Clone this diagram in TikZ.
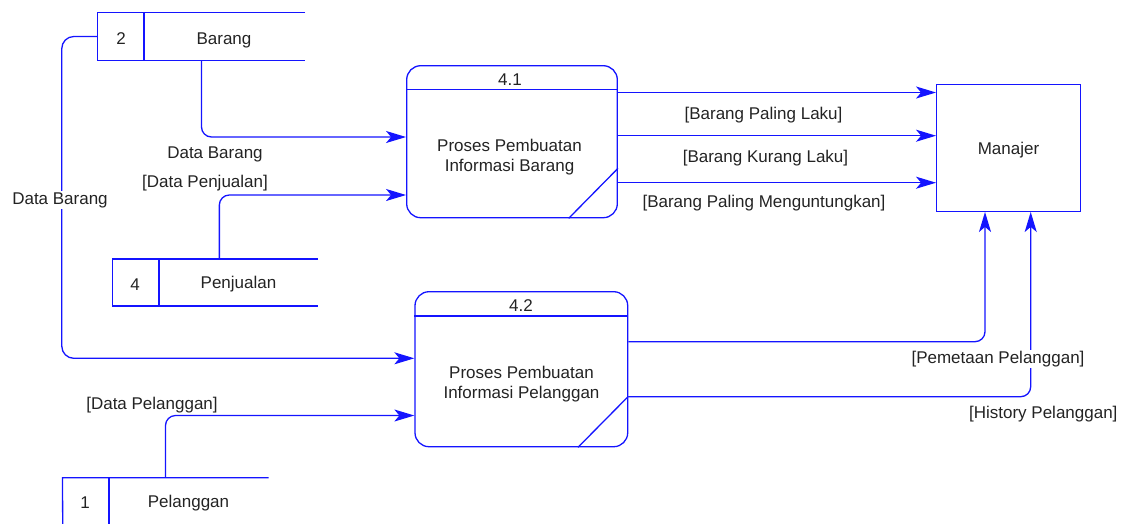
\documentclass[tikz,border=0pt]{standalone}
\usepackage{fontspec}
\setmainfont{Liberation Sans}
\usetikzlibrary{arrows.meta}
\definecolor{dfdline}{RGB}{20,20,255}
\definecolor{ink}{RGB}{35,35,35}
\begin{document}
\begin{tikzpicture}[x=1pt,y=-1pt,
  lbl/.style={font=\fontsize{17}{20}\selectfont, text=ink, inner sep=1pt, yshift=-2pt},
  proc/.style={draw=dfdline, line width=1.3pt, rounded corners=14pt, inner sep=0pt},
  store/.style={inner sep=0pt},
  entity/.style={draw=dfdline, line width=1.3pt, inner sep=0pt},
  edge/.style={dfdline, line width=1.3pt},
  flow/.style={dfdline, line width=1.3pt, rounded corners=10pt,
    -{Stealth[length=20pt,width=12pt,inset=5pt]}},
  gap/.style={lbl, fill=white}]
\useasboundingbox (0,0) rectangle (1129,523);

% processes
\node[proc, minimum width=210.6pt, minimum height=152pt] (p1) at (512,141.7) {};
\node[proc, minimum width=212.7pt, minimum height=155pt] (p2) at (521.35,369.2) {};
\draw[edge] (p1.west |- 0,89.7) -- (p1.east |- 0,89.7);
\draw[edge] ([xshift=-49.3pt]p1.south east) -- ([yshift=50pt]p1.south east);
\draw[edge] (p2.west |- 0,316) -- (p2.east |- 0,316);
\draw[edge] ([xshift=-50.4pt]p2.south east) -- ([yshift=51pt]p2.south east);
\node[lbl] (p1id) at (510,78) {4.1};
\node[lbl, align=center] (p1txt) at (509.5,155) {Proses Pembuatan\\Informasi Barang};
\node[lbl] (p2id) at (521,304) {4.2};
\node[lbl, align=center] (p2txt) at (521.5,382) {Proses Pembuatan\\Informasi Pelanggan};

% external entity
\node[entity, minimum width=143.6pt, minimum height=126.6pt] (m) at (1008.5,148) {};
\node[lbl] (mtxt) at (m.center) {Manajer};

% data stores
\node[store, minimum width=207pt, minimum height=47pt] (s2) at (201.5,36.5) {};
\draw[edge] (s2.north east) -- (s2.north west) -- (s2.south west) -- (s2.south east);
\draw[edge] (144,13) -- (144,60);
\node[lbl] (s2n) at (121,37) {2};
\node[lbl] (s2t) at (224,38) {Barang};

\node[store, minimum width=205.3pt, minimum height=46.4pt] (s4) at (215.35,282.5) {};
\draw[edge] (s4.north east) -- (s4.north west) -- (s4.south west) -- (s4.south east);
\draw[edge] (159,259.3) -- (159,305.7);
\node[lbl] (s4n) at (135,282.5) {4};
\node[lbl] (s4t) at (238.5,282.5) {Penjualan};

\node[store, minimum width=205.6pt, minimum height=46pt] (s1) at (165.5,501) {};
\draw[edge] (s1.north east) -- (s1.north west) -- (62.7,524);
\draw[edge] (109,478) -- (109,524);
\node[lbl] (s1n) at (85,501) {1};
\node[lbl] (s1t) at (188.5,501) {Pelanggan};

% flows into 4.1
\draw[flow] (s2.south) |- (p1.west |- 0,137);
\draw[flow] ([xshift=4pt]s4.north) |- (p1.west |- 0,195);
\node[lbl] (f1) at (215,152) {Data Barang};
\node[lbl] (f2) at (205,181) {[Data Penjualan]};

% flows into 4.2
\draw[flow, rounded corners=12pt] (s2.west) -- ++(-36,0) |- (p2.west |- 0,358.3);
\node[gap] (f3) at (60,198) {Data Barang};
\draw[flow] (s1.north) |- (p2.west |- 0,415.5);
\node[lbl] (f4) at (152,403.5) {[Data Pelanggan]};

% flows from 4.1 to Manajer
\draw[flow] (p1.east |- 0,92.5) -- (m.west |- 0,92.5);
\draw[flow] (p1.east |- 0,135.7) -- (m.west |- 0,135.7);
\draw[flow] (p1.east |- 0,182.7) -- (m.west |- 0,182.7);
\node[lbl] (f5) at (763.5,112.7) {[Barang Paling Laku]};
\node[lbl] (f6) at (765.5,155.7) {[Barang Kurang Laku]};
\node[lbl] (f7) at (764,200.7) {[Barang Paling Menguntungkan]};

% flows from 4.2 to Manajer
\draw[flow] (p2.east |- 0,341.7) -| ([xshift=-23.5pt]m.south);
\draw[flow] (p2.east |- 0,396.7) -| ([xshift=22.2pt]m.south);
\node[gap] (f8) at (998,356.7) {[Pemetaan Pelanggan]};
\node[lbl] (f9) at (1043.3,411.7) {[History Pelanggan]};
\end{tikzpicture}
\end{document}
